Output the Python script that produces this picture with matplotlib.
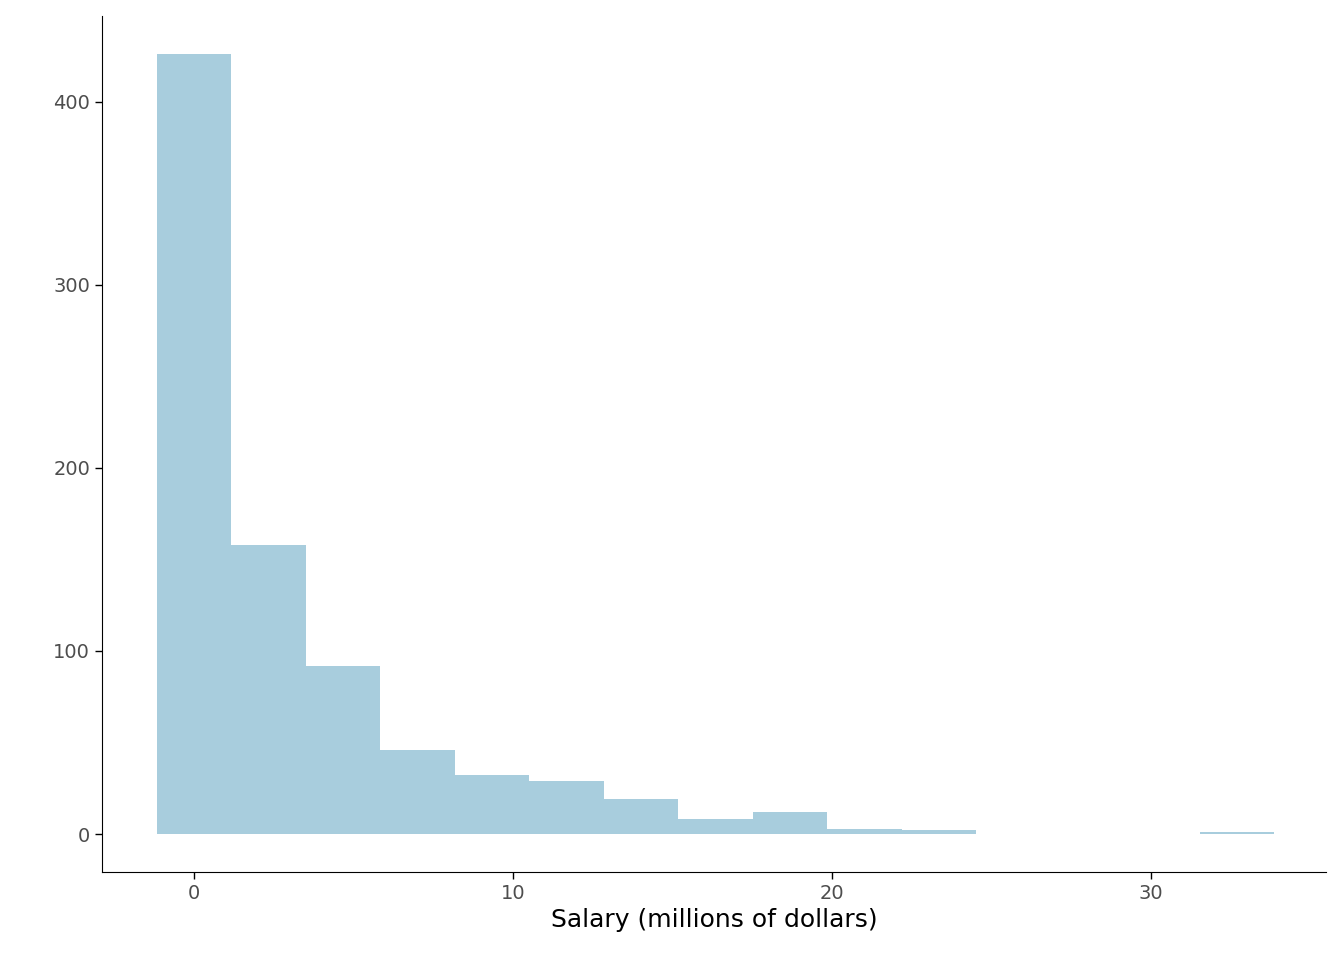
import numpy as np
import matplotlib
matplotlib.use("Agg")
import matplotlib.pyplot as plt

bin_width = 2.335
bin_centers = [i * bin_width for i in range(15)]
counts = [426, 158, 92, 46, 32, 29, 19, 8, 12, 3, 2, 0, 0, 0, 1]

fig = plt.figure(figsize=(13.44, 9.6), dpi=100)
ax = fig.add_axes([0.0759, 0.0917, 0.911, 0.892])
ax.bar(bin_centers, counts, width=bin_width, color="#a8cddd", edgecolor="none")
ax.set_xlim(-2.88, 35.5)
ax.set_ylim(-20.7, 447)
ax.set_xticks([0, 10, 20, 30])
ax.set_yticks([0, 100, 200, 300, 400])
ax.tick_params(labelsize=14, colors="#4d4d4d", length=5, width=1)
ax.tick_params(axis="both", color="black")
for s in ["top", "right"]:
    ax.spines[s].set_visible(False)
ax.set_xlabel("Salary (millions of dollars)", fontsize=18, labelpad=4)
plt.savefig("out.png", dpi=100)
